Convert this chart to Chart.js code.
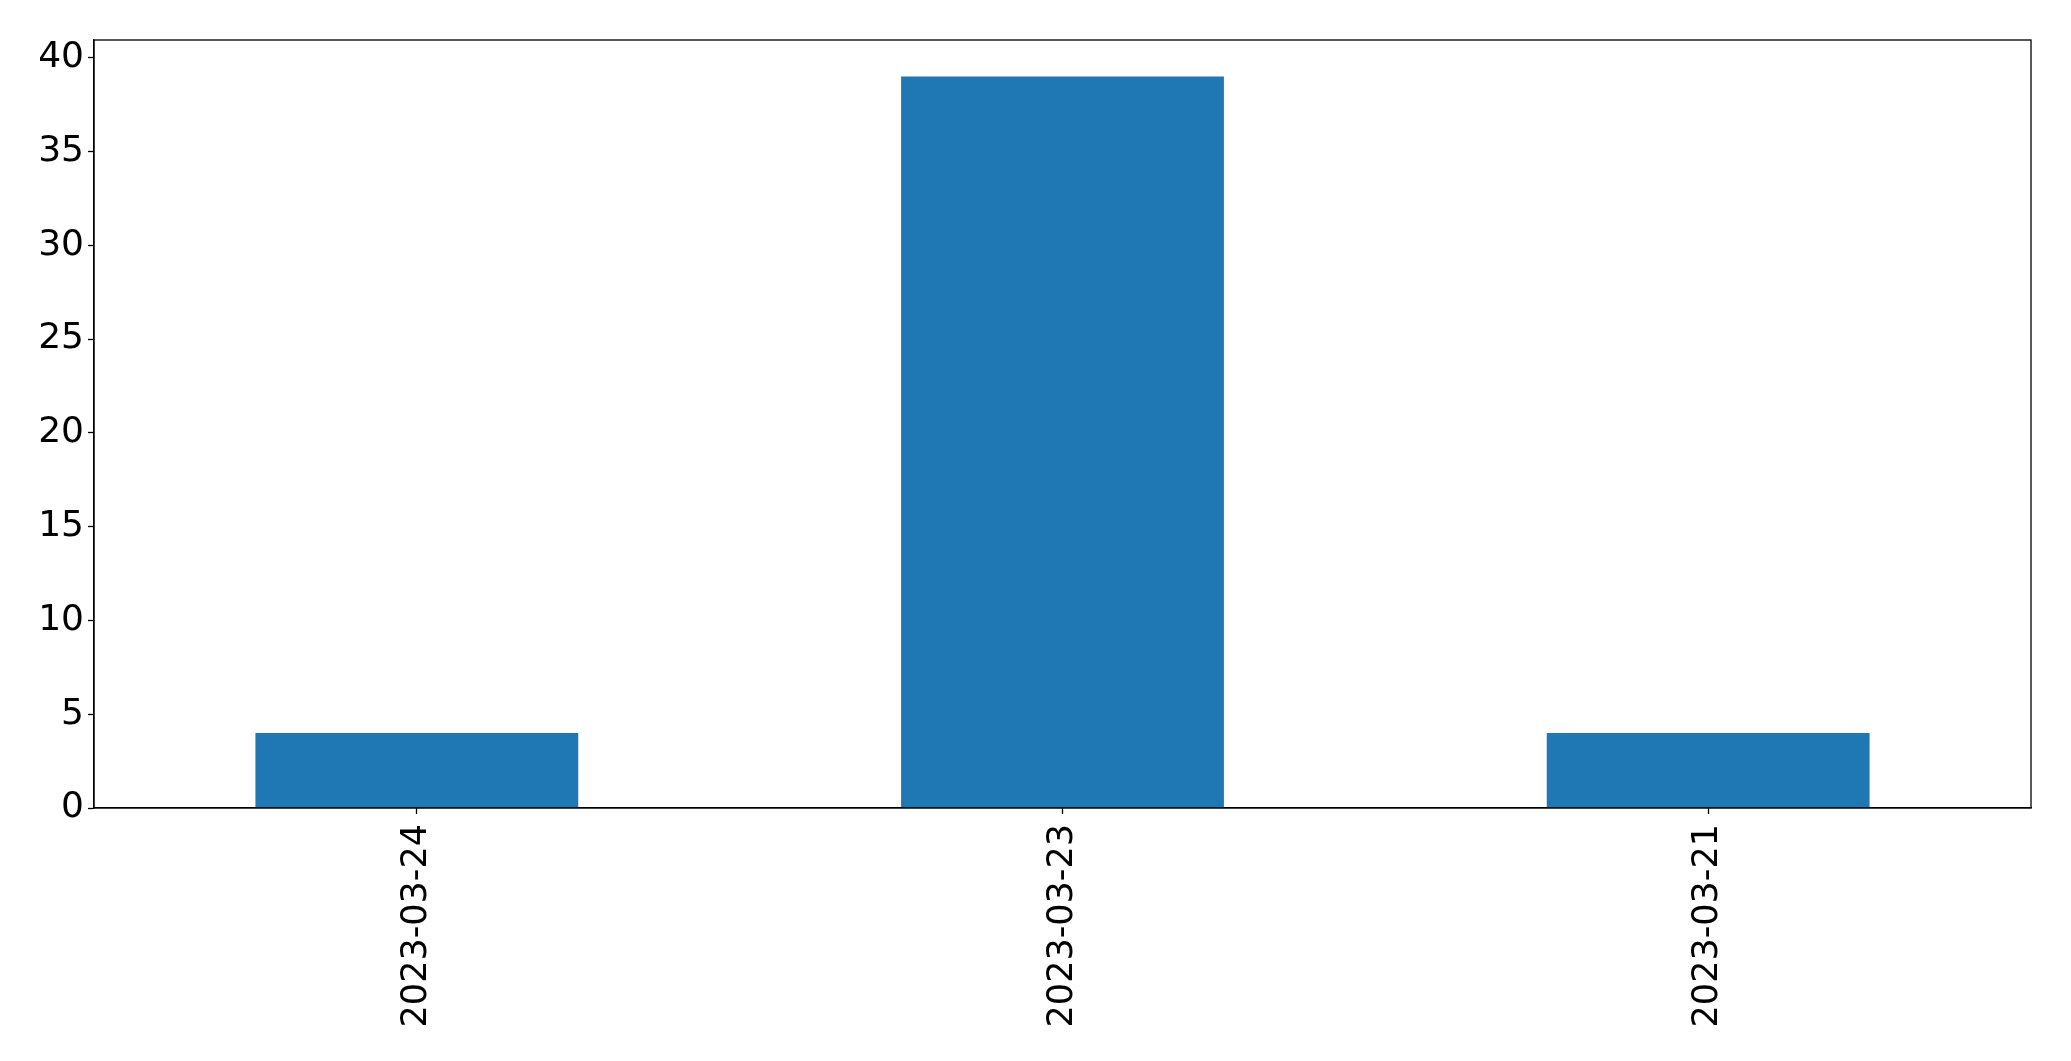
<!DOCTYPE html>
<html>
<head>
<meta charset="utf-8">
<script src="https://cdn.jsdelivr.net/npm/chart.js@4"></script>
<style>
html,body{margin:0;padding:0;background:#fff;}
canvas{display:block;}
</style>
</head>
<body>
<canvas id="c" width="2071" height="1061"></canvas>
<script>
const categories = ["2023-03-24", "2023-03-23", "2023-03-21"];
const counts = [4, 39, 4];
const yMax = 40.95;
const yStep = 5;

const frame = {
  id: 'frame',
  afterDatasetsDraw(chart) {
    const a = chart.chartArea, ctx = chart.ctx;
    ctx.save();
    ctx.strokeStyle = '#000';
    ctx.lineWidth = 1.3;
    ctx.strokeRect(a.left, a.top, a.right - a.left, a.bottom - a.top);
    ctx.restore();
  }
};

new Chart(document.getElementById('c'), {
  type: 'bar',
  data: {
    labels: categories,
    datasets: [{
      data: counts,
      backgroundColor: '#1f77b4',
      borderWidth: 0,
      categoryPercentage: 1.0,
      barPercentage: 0.5
    }]
  },
  options: {
    responsive: false,
    devicePixelRatio: 1,
    animation: false,
    layout: { padding: { left: 0, right: 40, top: 40, bottom: 0 } },
    plugins: { legend: { display: false }, tooltip: { enabled: false } },
    scales: {
      x: {
        offset: true,
        grid: { display: true, offset: false, drawOnChartArea: false, drawTicks: true, tickLength: 6, color: '#000', tickWidth: 1.3 },
        border: { display: true, color: '#000', width: 1.3 },
        ticks: {
          color: '#000',
          font: { family: 'DejaVu Sans', size: 35 },
          minRotation: 90, maxRotation: 90,
          padding: 10,
          autoSkip: false
        },
        afterFit(s) { s.height = 253; }
      },
      y: {
        min: 0,
        max: yMax,
        grid: { display: true, drawOnChartArea: false, drawTicks: true, tickLength: 6, color: '#000', tickWidth: 1.3 },
        border: { display: true, color: '#000', width: 1.3 },
        ticks: {
          stepSize: yStep,
          includeBounds: false,
          color: '#000',
          font: { family: 'DejaVu Sans', size: 36 },
          padding: 4
        },
        afterFit(s) { s.width = 94; }
      }
    }
  },
  plugins: [frame]
});
</script>
</body>
</html>
